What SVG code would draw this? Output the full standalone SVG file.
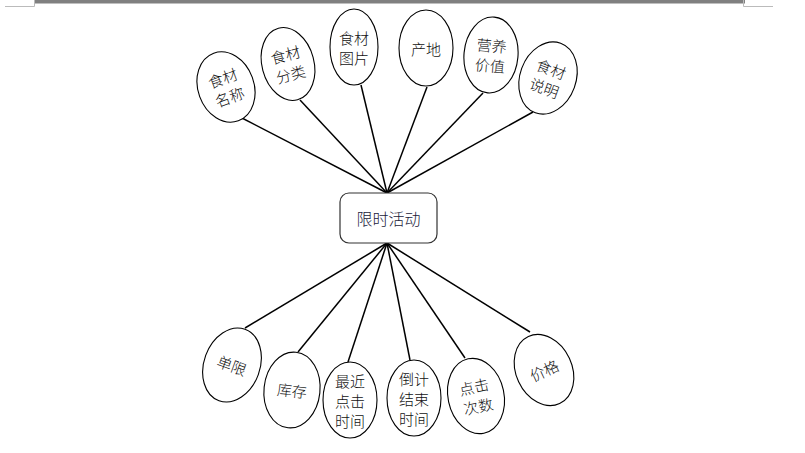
<svg xmlns="http://www.w3.org/2000/svg" width="805" height="453" viewBox="0 0 805 453">
<style>
.e{fill:#fff;stroke:#000;stroke-width:1.1}
.t{font-family:"Noto Sans CJK SC","Noto Sans",sans-serif;font-size:15px;font-weight:300;fill:#111;text-anchor:middle;dominant-baseline:central}
.c{stroke:#000;stroke-width:1.5;fill:none}
</style>
<rect x="35" y="0" width="710" height="3.5" fill="#808080"/>
<path d="M5 6.5H34.5V0M743.5 0V6.5H773" fill="none" stroke="#bbb" stroke-width="1"/>
<g id="connectors">
<line class="c" x1="387" y1="193" x2="240" y2="117"/>
<line class="c" x1="387" y1="193" x2="300" y2="100"/>
<line class="c" x1="387" y1="193" x2="361" y2="85"/>
<line class="c" x1="387" y1="193" x2="427" y2="87"/>
<line class="c" x1="387" y1="193" x2="483" y2="93"/>
<line class="c" x1="387" y1="193" x2="533" y2="112"/>
<line class="c" x1="387" y1="243" x2="245" y2="328"/>
<line class="c" x1="387" y1="243" x2="298" y2="352"/>
<line class="c" x1="387" y1="243" x2="348" y2="362"/>
<line class="c" x1="387" y1="243" x2="410" y2="360"/>
<line class="c" x1="387" y1="243" x2="465" y2="358"/>
<line class="c" x1="387" y1="243" x2="530" y2="332"/>
</g>
<g id="center">
<rect x="340" y="193" width="97" height="50" rx="9" fill="#fff" stroke="#333" stroke-width="1.2"/>
<text class="t" x="388.5" y="218" style="font-size:16px;fill:#1a1a3a">限时活动</text>
</g>
<g id="n1" transform="rotate(-20 226 87)">
<ellipse class="e" cx="226" cy="87" rx="28" ry="36"/>
<text class="t" x="226" y="77">食材</text><text class="t" x="226" y="97">名称</text>
</g>
<g id="n2" transform="rotate(-15 288 64)">
<ellipse class="e" cx="288" cy="64" rx="26" ry="37"/>
<text class="t" x="288" y="54">食材</text><text class="t" x="288" y="74">分类</text>
</g>
<g id="n3">
<ellipse class="e" cx="354" cy="47" rx="24" ry="38"/>
<text class="t" x="354" y="37">食材</text><text class="t" x="354" y="57">图片</text>
</g>
<g id="n4">
<ellipse class="e" cx="426" cy="48" rx="27" ry="38"/>
<text class="t" x="426" y="48">产地</text>
</g>
<g id="n5" transform="rotate(5 491 55)">
<ellipse class="e" cx="491" cy="55" rx="27" ry="38"/>
<text class="t" x="491" y="45">营养</text><text class="t" x="491" y="65">价值</text>
</g>
<g id="n6" transform="rotate(20 548 78)">
<ellipse class="e" cx="548" cy="78" rx="28" ry="37"/>
<text class="t" x="548" y="68">食材</text><text class="t" x="548" y="88">说明</text>
</g>
<g id="b1" transform="rotate(20 232 365)">
<ellipse class="e" cx="232" cy="365" rx="28" ry="38"/>
<text class="t" x="232" y="365">单限</text>
</g>
<g id="b2" transform="rotate(6 292 390)">
<ellipse class="e" cx="292" cy="390" rx="28" ry="38"/>
<text class="t" x="292" y="390">库存</text>
</g>
<g id="b3">
<ellipse class="e" cx="350" cy="400" rx="27" ry="38"/>
<text class="t" x="350" y="380">最近</text><text class="t" x="350" y="400">点击</text><text class="t" x="350" y="420">时间</text>
</g>
<g id="b4">
<ellipse class="e" cx="414" cy="398" rx="27" ry="38"/>
<text class="t" x="414" y="378">倒计</text><text class="t" x="414" y="398">结束</text><text class="t" x="414" y="418">时间</text>
</g>
<g id="b5" transform="rotate(-12 476 396)">
<ellipse class="e" cx="476" cy="396" rx="28" ry="38"/>
<text class="t" x="476" y="386">点击</text><text class="t" x="476" y="406">次数</text>
</g>
<g id="b6" transform="rotate(-25 544 370)">
<ellipse class="e" cx="544" cy="370" rx="28" ry="37"/>
<text class="t" x="544" y="370">价格</text>
</g>
</svg>
